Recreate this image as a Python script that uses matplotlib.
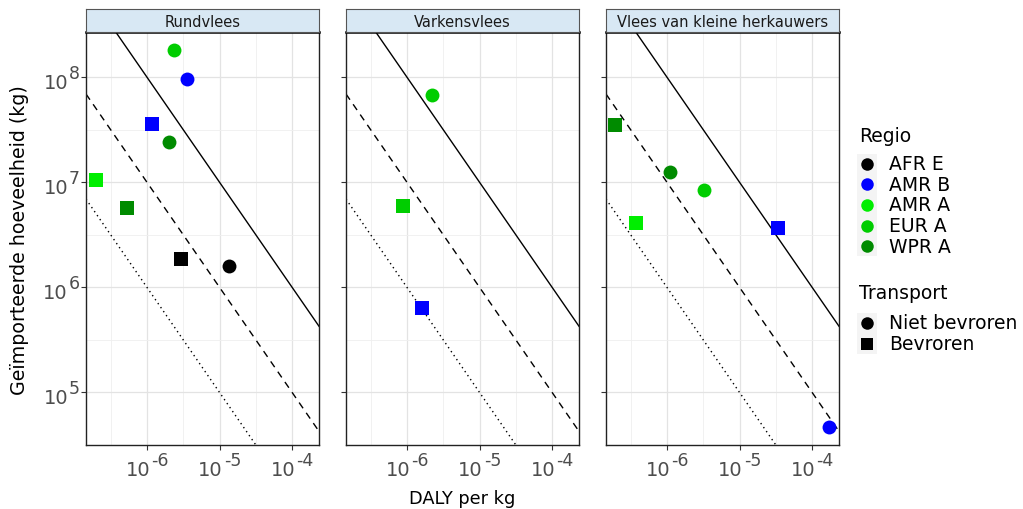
import numpy as np
import matplotlib
matplotlib.use("Agg")
import matplotlib.pyplot as plt
from matplotlib.lines import Line2D
from matplotlib.patches import Rectangle
from matplotlib.ticker import FixedLocator, NullFormatter

# panels (meat types)
panels = ["Rundvlees", "Varkensvlees", "Vlees van kleine herkauwers"]

# regions and their colours
regions = ["AFR E", "AMR B", "AMR A", "EUR A", "WPR A"]
region_colors = ["#000000", "#0000ff", "#00ee00", "#00cd00", "#008b00"]

# transport types -> marker
transports = ["Niet bevroren", "Bevroren"]
transport_markers = ["o", "s"]

# points per panel: region, transport, DALY per kg, imported amount (kg)
rund_region = ["EUR A", "AMR B", "AMR B", "WPR A", "AMR A", "WPR A", "AFR E", "AFR E"]
rund_transport = ["Niet bevroren", "Niet bevroren", "Bevroren", "Niet bevroren",
                  "Bevroren", "Bevroren", "Bevroren", "Niet bevroren"]
rund_daly = [2.35e-6, 3.6e-6, 1.17e-6, 2.0e-6, 2.0e-7, 5.3e-7, 2.9e-6, 1.36e-5]
rund_kg = [1.8e8, 9.7e7, 3.6e7, 2.4e7, 1.05e7, 5.7e6, 1.85e6, 1.6e6]

varken_region = ["EUR A", "EUR A", "AMR B"]
varken_transport = ["Niet bevroren", "Bevroren", "Bevroren"]
varken_daly = [2.2e-6, 8.9e-7, 1.6e-6]
varken_kg = [6.7e7, 5.9e6, 6.4e5]

klein_region = ["WPR A", "WPR A", "EUR A", "AMR A", "AMR B", "AMR B"]
klein_transport = ["Bevroren", "Niet bevroren", "Niet bevroren", "Bevroren",
                   "Bevroren", "Niet bevroren"]
klein_daly = [1.94e-7, 1.1e-6, 3.2e-6, 3.7e-7, 3.4e-5, 1.7e-4]
klein_kg = [3.5e7, 1.25e7, 8.4e6, 4.1e6, 3.7e6, 4.7e4]

# reference lines: total DALY = daly_per_kg * kg
line_levels = [100, 10, 1]
line_styles = ["-", (0, (5, 4)), (0, (1, 2.5))]

# tick exponents
x_exps = [-6, -5, -4]
y_exps = [5, 6, 7, 8]

xlim = (10 ** -6.84, 10 ** -3.63)
ylim = (10 ** 4.5, 10 ** 8.43)

data = [
    (rund_region, rund_transport, rund_daly, rund_kg),
    (varken_region, varken_transport, varken_daly, varken_kg),
    (klein_region, klein_transport, klein_daly, klein_kg),
]

W, H = 1023, 510
fig = plt.figure(figsize=(W / 100, H / 100), dpi=100)
renderer = fig.canvas.get_renderer()

TICK_COL = "#4d4d4d"
BASE_FS, EXP_FS = 14, 12.5


def text_w(s, size):
    t = fig.text(0, 0, s, fontsize=size)
    w = t.get_window_extent(renderer).width
    t.remove()
    return w


def pow_label(ax, e, axis):
    # "10" with a raised exponent, ggplot style
    bw = text_w("10", BASE_FS)
    ew = text_w(str(e), EXP_FS)
    kw = dict(textcoords="offset pixels", va="baseline", ha="left",
              color=TICK_COL, annotation_clip=False)
    if axis == "x":
        xy, xc = (10.0 ** e, 0), ("data", "axes fraction")
        x0 = -(bw + ew + 1) / 2
        ax.annotate("10", xy=xy, xycoords=xc, xytext=(x0, -30), fontsize=BASE_FS, **kw)
        ax.annotate(str(e), xy=xy, xycoords=xc, xytext=(x0 + bw + 1, -20),
                    fontsize=EXP_FS, **kw)
    else:
        xy, xc = (0, 10.0 ** e), ("axes fraction", "data")
        x0 = -6 - (bw + ew + 1)
        ax.annotate("10", xy=xy, xycoords=xc, xytext=(x0, -11), fontsize=BASE_FS, **kw)
        ax.annotate(str(e), xy=xy, xycoords=xc, xytext=(x0 + bw + 1, -1),
                    fontsize=EXP_FS, **kw)


lefts = [86, 346, 606]
pw = 233
top, bottom = 33, 446
strip_top = 10

for i, (title, (reg, trn, dx, dy)) in enumerate(zip(panels, data)):
    ax = fig.add_axes([lefts[i] / W, 1 - bottom / H, pw / W, (bottom - top) / H])
    ax.set_xscale("log")
    ax.set_yscale("log")
    ax.set_xlim(*xlim)
    ax.set_ylim(*ylim)

    ax.xaxis.set_major_locator(FixedLocator([10.0 ** e for e in x_exps]))
    ax.yaxis.set_major_locator(FixedLocator([10.0 ** e for e in y_exps]))
    ax.xaxis.set_minor_locator(FixedLocator([10.0 ** (e + 0.5) for e in range(-7, -3)]))
    ax.yaxis.set_minor_locator(FixedLocator([10.0 ** (e + 0.5) for e in range(4, 9)]))
    for a in (ax.xaxis, ax.yaxis):
        a.set_major_formatter(NullFormatter())
        a.set_minor_formatter(NullFormatter())

    ax.grid(True, which="major", color="#e3e3e3", lw=0.9)
    ax.grid(True, which="minor", color="#efefef", lw=0.6)
    ax.set_axisbelow(True)
    ax.tick_params(which="minor", length=0)
    ax.tick_params(which="major", length=3.5, color="#333333", width=0.8)
    for s in ax.spines.values():
        s.set_color("#222222")
        s.set_linewidth(1.0)
    ax.spines["top"].set_linewidth(1.8)
    ax.spines["top"].set_color("black")

    for e in x_exps:
        pow_label(ax, e, "x")
    if i == 0:
        for e in y_exps:
            pow_label(ax, e, "y")

    xs = np.array(xlim)
    for lvl, ls in zip(line_levels, line_styles):
        ax.plot(xs, lvl / xs, color="black", lw=1.0, ls=ls, zorder=2)

    for r, t, x, y in zip(reg, trn, dx, dy):
        ax.plot(x, y, marker=transport_markers[transports.index(t)], ms=10,
                mew=0, color=region_colors[regions.index(r)], ls="none", zorder=3)

    # facet strip
    sx = fig.add_axes([lefts[i] / W, 1 - top / H, pw / W, (top - strip_top) / H])
    sx.set_facecolor("#d8e8f4")
    sx.set_xticks([])
    sx.set_yticks([])
    for s in sx.spines.values():
        s.set_color("#555555")
        s.set_linewidth(0.8)
    sx.text(0.5, 0.45, title, ha="center", va="center", fontsize=10.5,
            color="#1a1a1a", transform=sx.transAxes)

fig.text(20 / W, 1 - 240 / H, "Geïmporteerde hoeveelheid (kg)", rotation=90,
         ha="center", va="center", fontsize=13.7)
fig.text(462 / W, 1 - 499 / H, "DALY per kg", ha="center", va="center", fontsize=12.8)


# legends drawn by hand (ggplot layout)
def legend_block(title, labels, colors, markers, title_y, first_y, step=20.7):
    fig.text(859 / W, 1 - title_y / H, title, ha="left", va="center", fontsize=13.5)
    n = len(labels)
    fig.add_artist(Rectangle((857 / W, 1 - (first_y + (n - 1) * step + 10) / H),
                             20 / W, ((n - 1) * step + 20) / H,
                             transform=fig.transFigure, color="#f4f4f4", lw=0))
    for k, (lab, c, m) in enumerate(zip(labels, colors, markers)):
        y = 1 - (first_y + k * step) / H
        fig.add_artist(Line2D([867 / W], [y], transform=fig.transFigure, marker=m,
                              ms=9 if m == "o" else 8, mew=0, color=c, ls="none"))
        fig.text(889 / W, y, lab, ha="left", va="center", fontsize=13.5)


legend_block("Regio", regions, region_colors, ["o"] * len(regions), 137, 164.5)
legend_block("Transport", transports, ["black"] * 2, transport_markers, 294, 324)

fig.savefig("out.png", dpi=100)
